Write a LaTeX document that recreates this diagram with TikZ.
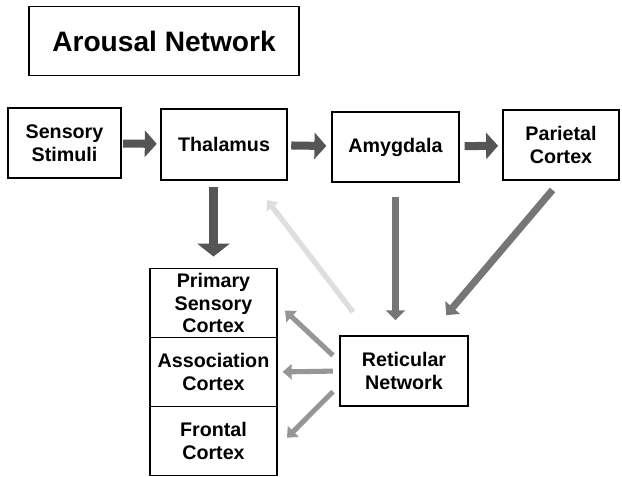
\documentclass[tikz,border=0pt]{standalone}
\usepackage{fontspec}
\setmainfont{Liberation Sans}
\usepackage{xcolor}
\definecolor{arrdark}{RGB}{85,85,85}
\definecolor{arrmid}{RGB}{118,118,118}
\definecolor{arrsoft}{RGB}{150,150,150}
\definecolor{arrpale}{RGB}{222,222,222}
\usetikzlibrary{positioning}
\usetikzlibrary{arrows.meta}
\usetikzlibrary{calc}
\tikzset{box node/.style={rectangle,draw,line width=1.3pt,fill=white,align=center,inner sep=0pt,outer sep=0pt,font=\bfseries\fontsize{14}{16}\selectfont},}

\begin{document}
\begin{tikzpicture}[x=0.025cm, y=-0.025cm,
    fat arrow/.style={-{Triangle[width=18.5pt,length=8.5pt]},line width=5.7pt,draw=arrdark},
    down arrow/.style={-{Triangle[width=13.5pt,length=7pt]},line width=5pt,draw=arrmid},
    thin arrow/.style={-{Triangle[width=10.6pt,length=6.4pt]},line width=3.6pt,draw=arrsoft}]
	    \useasboundingbox (0,0) rectangle (622,477);
		\node[box node, minimum width=6.75cm, minimum height=1.725cm, font=\bfseries\fontsize{20}{24}\selectfont] (title) at (164,41) {Arousal Network};
	    \node[box node, minimum width=2.825cm, minimum height=1.75cm] (stim) at (64.5,143) {Sensory\\Stimuli};
	    \node[box node, minimum width=3.15cm, minimum height=1.775cm] (thal) at (224,144.5) {Thalamus};
	    \node[box node, minimum width=3.175cm, minimum height=1.75cm] (amyg) at (395.5,147) {Amygdala};
	    \node[box node, minimum width=2.9cm, minimum height=1.75cm] (pari) at (561,145) {Parietal\\Cortex};
	    \node[box node, minimum width=3.175cm, minimum height=1.725cm] (prim) at (213.5,303) {Primary\\Sensory\\Cortex};
	    \node[box node, minimum width=3.175cm, minimum height=1.725cm] (assoc) [below = 0pt of prim] {Association\\Cortex};
	    \node[box node, minimum width=3.175cm, minimum height=1.725cm] (front) [below = 0pt of assoc] {Frontal\\Cortex};
	    \node[box node, minimum width=3.2cm, minimum height=1.75cm] (retic) at (404,371) {Reticular\\Network};
	
	    \path
	    (stim) edge [fat arrow, shorten <=1.5pt, shorten >=3pt] (thal)
	    (thal) edge [fat arrow, shorten <=3pt, shorten >=4pt] (amyg)
	    (amyg) edge [fat arrow, shorten <=4pt, shorten >=3.5pt] (pari)
	    (thal.south -| prim.north) edge [fat arrow, -{Triangle[width=22.7pt,length=9.2pt]}, line width=7pt, shorten <=5pt, shorten >=8.5pt] (prim.north)
	    (amyg.south) edge [down arrow, shorten <=10.6pt, shorten >=11.3pt] (amyg.south |- retic.north)
	    (pari.south) edge [down arrow, shorten <=9.3pt, shorten >=19.5pt] (retic.55)
	    (retic.133) edge [thin arrow, draw=arrpale, line width=3.8pt, shorten <=21.4pt, shorten >=17.9pt] (thal.-52)
	    (retic.172) edge [thin arrow, shorten <=6.8pt, shorten >=7.8pt] (prim.east)
	    (retic.west) edge [thin arrow, shorten <=5pt, shorten >=4pt] (assoc.east)
	    (retic.192) edge [thin arrow, shorten <=7pt, shorten >=10pt] (front.-6);
	\end{tikzpicture}
\end{document}
